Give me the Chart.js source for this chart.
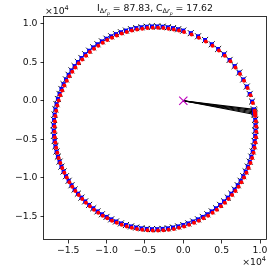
<!DOCTYPE html>
<html>
<head>
<meta charset="utf-8">
<script src="https://cdn.jsdelivr.net/npm/chart.js@4"></script>
<style>
  html, body { margin: 0; padding: 0; background: #fff; }
  #wrap { width: 273px; height: 272px; }
</style>
</head>
<body>
<div id="wrap"><canvas id="chart" width="273" height="272"></canvas></div>
<script>
// ring points (blue squares, black crosses share them)
const blueX = [
  9297, 9274, 9248, 9220, 9190,
  8962, 8656, 8273, 7816, 7289, 6693, 6032, 5312, 4536, 3708, 2835, 1921, 973, -5,
  -670, -1344, -2024, -2708, -3396, -4084, -4772, -5456, -6136, -6810, -7475, -8130, -8772, -9401, -10015,
  -10611, -11188, -11745, -12280, -12792, -13279, -13739, -14173, -14577, -14952, -15296, -15609, -15889,
  -16136, -16348, -16527, -16670, -16777, -16850, -16886,
  -16886, -16850, -16777, -16670, -16527, -16348, -16136, -15889, -15609, -15296, -14952, -14577, -14173,
  -13739, -13279, -12792, -12280, -11745, -11188, -10611, -10015, -9401, -8772, -8130, -7475, -6810, -6136,
  -5456, -4772, -4084,
  -3396, -2708, -2024, -1344, -670, -5, 650, 1292, 1921, 2535, 3131, 3708, 4265, 4800, 5312, 5799, 6259,
  6693, 7097, 7472, 7816, 8129, 8409, 8656, 8868, 9047, 9190, 9297, 9370, 9406,
  9406, 9370
];
const blueY = [
  -1784, -1613, -1443, -1273, -1104,
  -97, 890, 1849, 2775, 3662, 4505, 5299, 6039, 6720, 7337, 7888, 8369, 8777, 9108,
  9287, 9430, 9537, 9610, 9646, 9646, 9610, 9537, 9430, 9287, 9108, 8896, 8649, 8369, 8056,
  7712, 7337, 6933, 6499, 6039, 5552, 5040, 4505, 3948, 3371, 2775, 2161, 1532,
  890, 235, -430, -1104, -1784, -2468, -3156,
  -3844, -4532, -5216, -5896, -6570, -7235, -7890, -8532, -9161, -9775, -10371, -10948, -11505,
  -12040, -12552, -13039, -13499, -13933, -14337, -14712, -15056, -15369, -15649, -15896, -16108, -16287, -16430,
  -16537, -16610, -16646,
  -16646, -16610, -16537, -16430, -16287, -16108, -15896, -15649, -15369, -15056, -14712, -14337, -13933,
  -13499, -13039, -12552, -12040, -11505, -10948, -10371, -9775, -9161, -8532, -7890, -7235, -6570, -5896,
  -5216, -4532, -3844,
  -3156, -2468
];

// red dots
const redX = [
  9397, 9374, 9348, 9320, 9290,
  9062, 8756, 8373, 7916, 7389, 6793, 6132, 5412, 4636, 3808, 2935, 2021, 1073, 95,
  -570, -1244, -1924, -2608, -3296, -3984, -4672, -5356, -6036, -6710, -7375, -8030, -8672, -9301, -9915,
  -10511, -11088, -11645, -12180, -12692, -13179, -13639, -14073, -14477, -14852, -15196, -15509, -15789,
  -16036, -16248, -16427, -16570, -16677, -16750, -16786,
  -16786, -16750, -16677, -16570, -16427, -16248, -16036, -15789, -15509, -15196, -14852, -14477, -14073,
  -13639, -13179, -12692, -12180, -11645, -11088, -10511, -9915, -9301, -8672, -8030, -7375, -6710, -6036,
  -5356, -4672, -3984,
  -3296, -2608, -1924, -1244, -570, 95, 750, 1392, 2021, 2635, 3231, 3808, 4365, 4900, 5412, 5899, 6359,
  6793, 7197, 7572, 7916, 8229, 8509, 8756, 8968, 9147, 9290, 9397, 9470, 9506,
  9506, 9470
];
const redY = [
  -1964, -1793, -1623, -1453, -1284,
  -277, 710, 1669, 2595, 3482, 4325, 5119, 5859, 6540, 7157, 7708, 8189, 8597, 8928,
  9107, 9250, 9357, 9430, 9466, 9466, 9430, 9357, 9250, 9107, 8928, 8716, 8469, 8189, 7876,
  7532, 7157, 6753, 6319, 5859, 5372, 4860, 4325, 3768, 3191, 2595, 1981, 1352,
  710, 55, -610, -1284, -1964, -2648, -3336,
  -4024, -4712, -5396, -6076, -6750, -7415, -8070, -8712, -9341, -9955, -10551, -11128, -11685,
  -12220, -12732, -13219, -13679, -14113, -14517, -14892, -15236, -15549, -15829, -16076, -16288, -16467, -16610,
  -16717, -16790, -16826,
  -16826, -16790, -16717, -16610, -16467, -16288, -16076, -15829, -15549, -15236, -14892, -14517, -14113,
  -13679, -13219, -12732, -12220, -11685, -11128, -10551, -9955, -9341, -8712, -8070, -7415, -6750, -6076,
  -5396, -4712, -4024,
  -3336, -2648
];

// origin marker and the lines fanning out from it
const originX = [0];
const originY = [0];
const lineEndX = [9297, 9274, 9248, 9220, 9190];
const lineEndY = [-1784, -1613, -1443, -1273, -1104];

const xTicks = [-15000, -10000, -5000, 0, 5000, 10000];
const xTickLabels = ['\u22121.5', '\u22121.0', '\u22120.5', '0.0', '0.5', '1.0'];
const yTicks = [-15000, -10000, -5000, 0, 5000, 10000];
const yTickLabels = ['\u22121.5', '\u22121.0', '\u22120.5', '0.0', '0.5', '1.0'];
const titleI = '87.83';
const titleC = '17.62';

const FONT = 'DejaVu Sans';
const FS = 9.3;

const pts = (xs, ys) => xs.map((x, i) => ({ x: x, y: ys[i] }));

// mehrteiliger Text mit Tief-/Hochstellung
function drawRich(ctx, parts, x, y, align) {
  let total = 0;
  parts.forEach(p => {
    ctx.font = (p.it ? 'italic ' : '') + p.size + 'px "' + FONT + '"';
    p.w = ctx.measureText(p.t).width;
    total += p.w;
  });
  let cx = align === 'center' ? x - total / 2 : (align === 'right' ? x - total : x);
  ctx.textAlign = 'left';
  ctx.textBaseline = 'alphabetic';
  parts.forEach(p => {
    ctx.font = (p.it ? 'italic ' : '') + p.size + 'px "' + FONT + '"';
    ctx.fillText(p.t, cx, y + (p.dy || 0));
    cx += p.w;
  });
}

const subParts = () => [
  { t: '\u0394', size: FS * 0.7, dy: 2.2 },
  { t: 'r', size: FS * 0.7, dy: 2.2, it: true },
  { t: 'p', size: FS * 0.5, dy: 3.8, it: true }
];

const decorPlugin = {
  id: 'decor',
  afterDraw(chart) {
    const ctx = chart.ctx;
    const a = chart.chartArea;
    ctx.save();
    ctx.strokeStyle = '#000';
    ctx.lineWidth = 0.8;
    ctx.strokeRect(Math.round(a.left) - 0.5, Math.round(a.top) + 0.5,
      Math.round(a.right - a.left) + 1, Math.round(a.bottom - a.top) - 1);
    ctx.fillStyle = '#111';
    const title = [{ t: 'I', size: FS }].concat(subParts(),
      [{ t: ' = ' + titleI + ', C', size: FS }], subParts(),
      [{ t: ' = ' + titleC, size: FS }]);
    drawRich(ctx, title, (a.left + a.right) / 2, 11, 'center');
    const off = [{ t: '\u00d710', size: FS }, { t: '4', size: FS * 0.7, dy: -4 }];
    drawRich(ctx, off, a.left + 1, 14, 'left');
    drawRich(ctx, off, a.right, 265, 'right');
    ctx.restore();
  }
};

const tickFont = { family: FONT, size: FS };

new Chart(document.getElementById('chart'), {
  type: 'scatter',
  data: {
    datasets: [
      {
        data: pts(originX, originY), pointStyle: 'crossRot', pointRadius: 5.8,
        borderColor: '#bf00bf', borderWidth: 1.1, order: 0
      },
      {
        data: pts(redX, redY), pointStyle: 'circle', pointRadius: 2,
        backgroundColor: '#ff0000', borderWidth: 0, order: 1
      },
      {
        data: pts(blueX, blueY), pointStyle: 'rect', pointRadius: 2.8,
        backgroundColor: '#0000ff', borderWidth: 0, order: 2
      },
      {
        data: pts(blueX, blueY), pointStyle: 'crossRot', pointRadius: 4.3,
        borderColor: '#000', borderWidth: 0.9, order: 3
      }
    ].concat(lineEndX.map((x, i) => ({
      data: [{ x: originX[0], y: originY[0] }, { x: x, y: lineEndY[i] }],
      showLine: true, pointRadius: 0, borderColor: '#000', borderWidth: 1.1, order: 4
    })))
  },
  options: {
    responsive: false,
    animation: false,
    devicePixelRatio: 1,
    layout: { padding: { top: 16, right: 7, left: 0, bottom: 0 } },
    plugins: { legend: { display: false }, tooltip: { enabled: false } },
    scales: {
      x: {
        type: 'linear', min: -18160, max: 10780,
        afterBuildTicks: s => { s.ticks = xTicks.map(v => ({ value: v })); },
        afterFit: s => { s.height = 32; },
        ticks: {
          font: tickFont, color: '#111', padding: 2, maxRotation: 0,
          callback: v => xTickLabels[xTicks.indexOf(v)]
        },
        grid: { display: true, drawOnChartArea: false, drawTicks: true, tickLength: 3.5, tickWidth: 0.8, tickColor: '#000' },
        border: { display: false }
      },
      y: {
        type: 'linear', min: -18050, max: 11000,
        afterBuildTicks: s => { s.ticks = yTicks.map(v => ({ value: v })); },
        afterFit: s => { s.width = 44; },
        ticks: {
          font: tickFont, color: '#111', padding: 3,
          callback: v => yTickLabels[yTicks.indexOf(v)]
        },
        grid: { display: true, drawOnChartArea: false, drawTicks: true, tickLength: 3.5, tickWidth: 0.8, tickColor: '#000' },
        border: { display: false }
      }
    }
  },
  plugins: [decorPlugin]
});
</script>
</body>
</html>
